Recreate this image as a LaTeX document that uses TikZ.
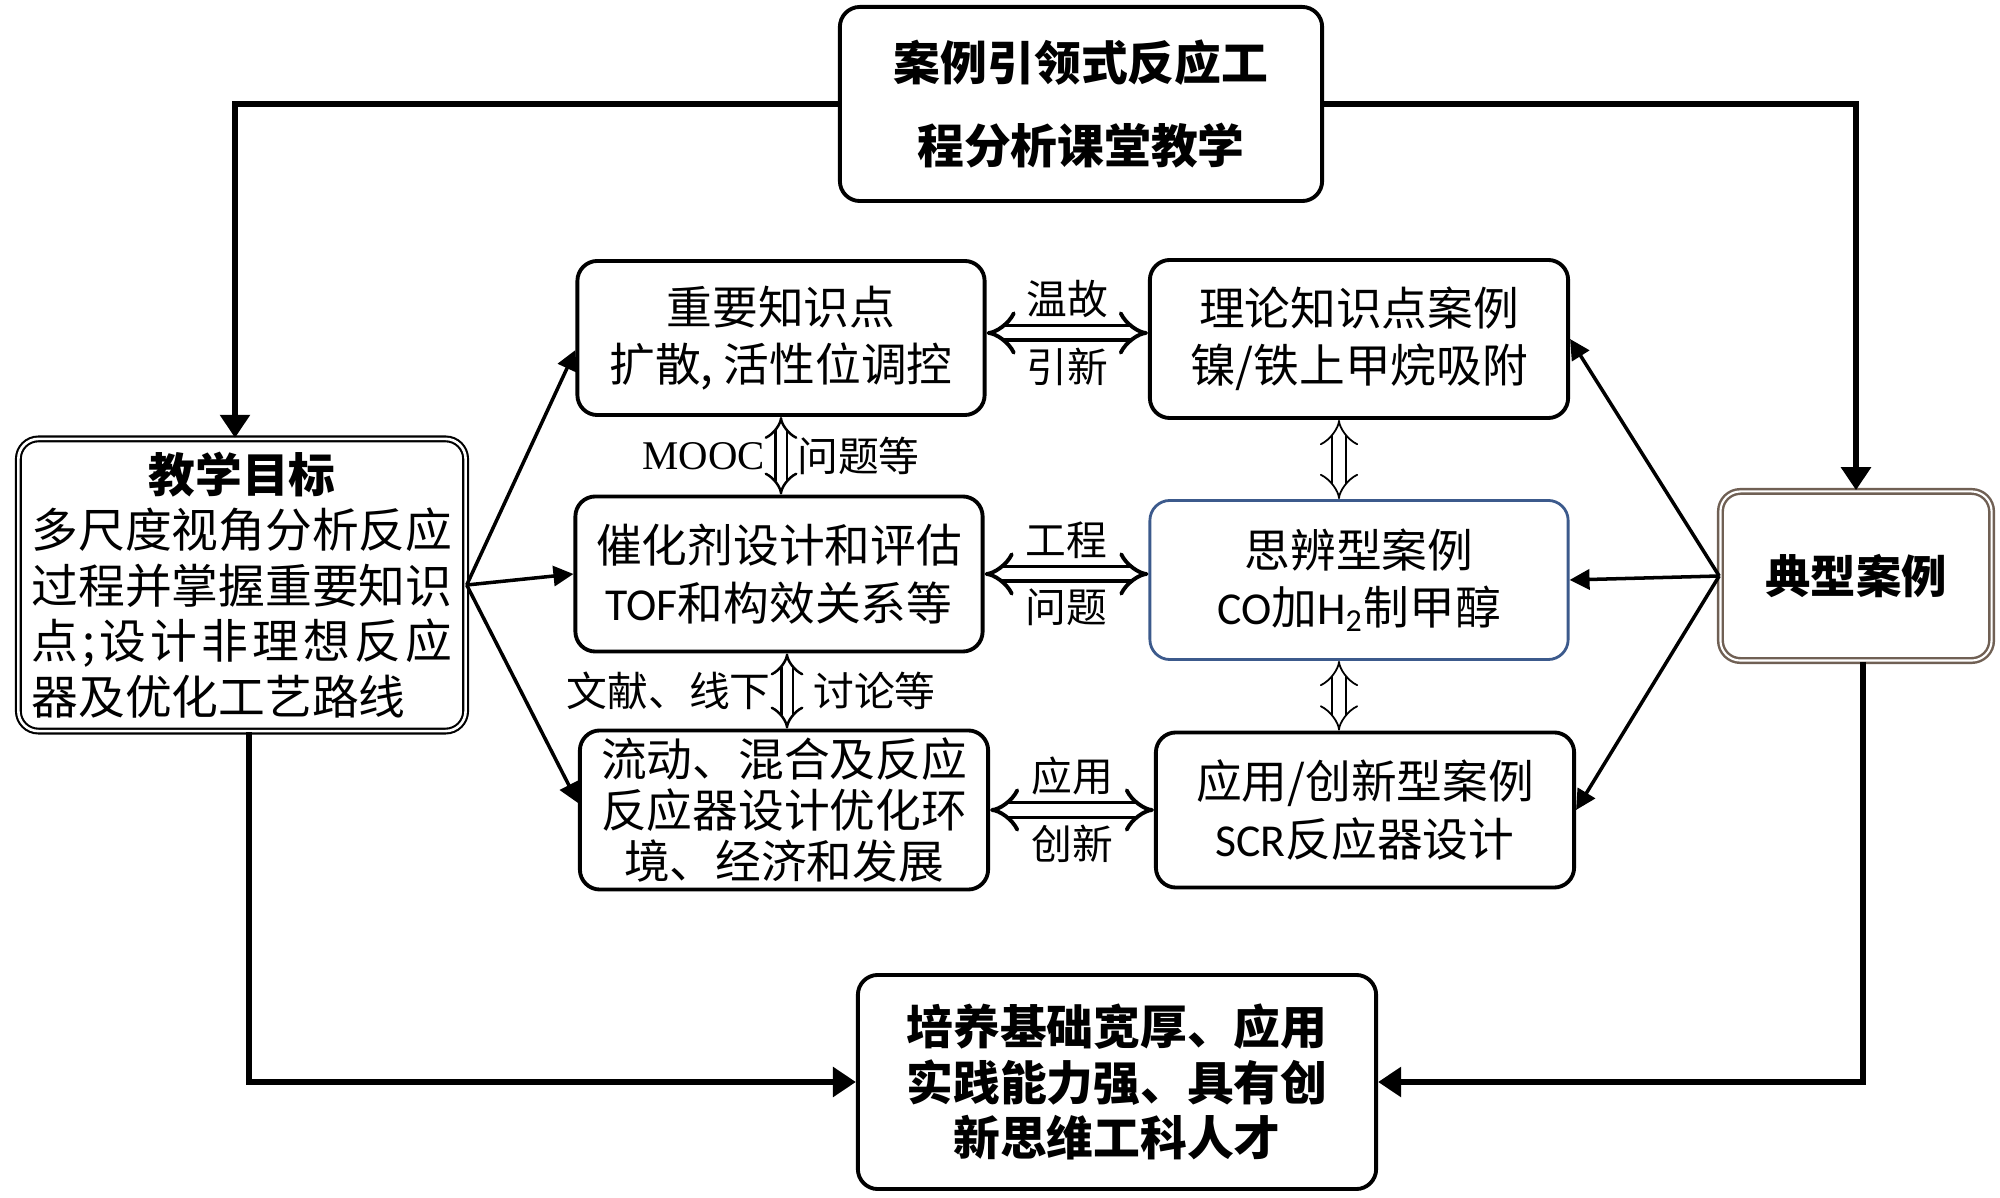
\documentclass[tikz,border=0pt]{standalone}
\usepackage{fontspec}
\setmainfont{Noto Sans CJK SC}
\newfontfamily\calfont{Carlito}
\newfontfamily\timesfont{Liberation Serif}
\usetikzlibrary{arrows.meta}
\definecolor{caseframe}{RGB}{112,96,84}
\definecolor{thinkframe}{RGB}{60,90,140}
\begin{document}
\begin{tikzpicture}[x=0.01cm, y=-0.01cm,
  box/.style={draw, line width=1.1pt, rounded corners=0.2cm, align=center, inner sep=0pt, font=\fontsize{13}{16.3}\selectfont},
  mainbox/.style={box, font=\fontsize{13.3}{23.6}\selectfont\bfseries},
  flow/.style={line width=1.6pt, -{Triangle[length=0.23cm,width=0.29cm]}},
  spoke/.style={line width=1pt, -{Triangle[length=0.2cm,width=0.2cm]}},
  link/.style={double, line width=1.1pt, double distance=0.11cm, {Implies}-{Implies}},
  tag/.style={font=\fontsize{11.6}{14}\selectfont, inner sep=0.05cm}]

\useasboundingbox (0,0) rectangle (2000,1198);

\node[mainbox, minimum width=4.82cm, minimum height=1.94cm] (course) at (1081,104) {案例引领式反应工\\程分析课堂教学};

\node[box, double, line width=0.6pt, double distance=0.75pt, minimum width=4.47cm, minimum height=2.92cm,
  font=\fontsize{13.3}{15.8}\selectfont] (goal) at (242,585) {{\bfseries 教学目标}\\
  \makebox[9em][l]{多尺度视角分析反应}\\
  \makebox[9em][l]{过程并掌握重要知识}\\
  \makebox[9em][l]{点\hfill ;\hfill 设\hfill 计\hfill 非\hfill 理\hfill 想\hfill 反\hfill 应}\\
  \makebox[9em][l]{器及优化工艺路线}};

\node[box, draw=caseframe, double, line width=0.7pt, double distance=0.6pt, minimum width=2.71cm, minimum height=1.69cm,
  font=\fontsize{12.9}{16}\selectfont\bfseries] (typical) at (1856,576) {典型案例};

\node[mainbox, minimum width=5.18cm, minimum height=2.14cm, font=\fontsize{13.3}{15.8}\selectfont\bfseries] (talent) at (1117,1082)
  {培养基础宽厚、应用\\实践能力强、具有创\\新思维工科人才};

\node[box, minimum width=4.07cm, minimum height=1.54cm] (point) at (781,338) {重要知识点\\扩散, 活性位调控};
\node[box, minimum width=4.07cm, minimum height=1.55cm] (catal) at (779,574) {催化剂设计和评估\\{\calfont TOF}和构效关系等};
\node[box, minimum width=4.08cm, minimum height=1.59cm, font=\fontsize{13}{14.5}\selectfont] (reactor) at (784,810)
  {流动、混合及反应\\反应器设计优化环\\境、经济和发展};

\node[box, minimum width=4.18cm, minimum height=1.58cm] (theory) at (1359,339) {理论知识点案例\\镍/铁上甲烷吸附};
\node[box, draw=thinkframe, line width=0.8pt, minimum width=4.18cm, minimum height=1.59cm] (think) at (1359,580)
  {思辨型案例\\{\calfont CO}加{\calfont H\textsubscript{2}}制甲醇};
\node[box, minimum width=4.18cm, minimum height=1.55cm] (apply) at (1365,810) {应用/创新型案例\\{\calfont SCR}反应器设计};

\draw[flow] (course.west) -| ([xshift=-0.07cm]goal.north);
\draw[flow] (course.east) -| (typical.north);
\draw[flow] ([xshift=0.07cm]goal.south) |- (talent.west);
\draw[flow] ([xshift=0.07cm]typical.south) |- (talent.east);

\draw[spoke] (goal.east) -- ([yshift=-0.12cm]point.west);
\draw[spoke] (goal.east) -- (catal.west);
\draw[spoke] (goal.east) -- ([yshift=0.07cm]reactor.west);
\draw[spoke] (typical.west) -- (theory.east);
\draw[spoke] (typical.west) -- (think.east);
\draw[spoke] (typical.west) -- (apply.east);

\draw[link] ([yshift=0.05cm]point.east) -- node[tag, above=0.08cm] {温故} node[tag, below=0.08cm] {引新} ([yshift=0.05cm]point.east -| theory.west);
\draw[link] (catal.east) -- node[tag, above=0.08cm] {工程} node[tag, below=0.08cm] {问题} (catal.east -| think.west);
\draw[link] (reactor.east) -- node[tag, above=0.08cm] {应用} node[tag, below=0.08cm] {创新} (reactor.east -| apply.west);

\draw[link, line width=0.7pt, double distance=0.09cm] (point.south) -- node[tag, left=0.1cm] {\timesfont MOOC} node[tag, right=0.1cm] {问题等} (point.south |- catal.north);
\draw[link, line width=0.7pt, double distance=0.09cm] ([xshift=0.08cm]catal.south) -- node[tag, left=0.1cm] {文献、线下} node[tag, right=0.2cm] {讨论等} ([xshift=0.08cm]catal.south |- reactor.north);
\draw[link, line width=0.5pt, double distance=0.12cm] ([xshift=-0.2cm]theory.south) -- ([xshift=-0.2cm]think.north);
\draw[link, line width=0.5pt, double distance=0.12cm] ([xshift=-0.2cm]think.south) -- ([xshift=-0.2cm]think.south |- apply.north);

\end{tikzpicture}
\end{document}
